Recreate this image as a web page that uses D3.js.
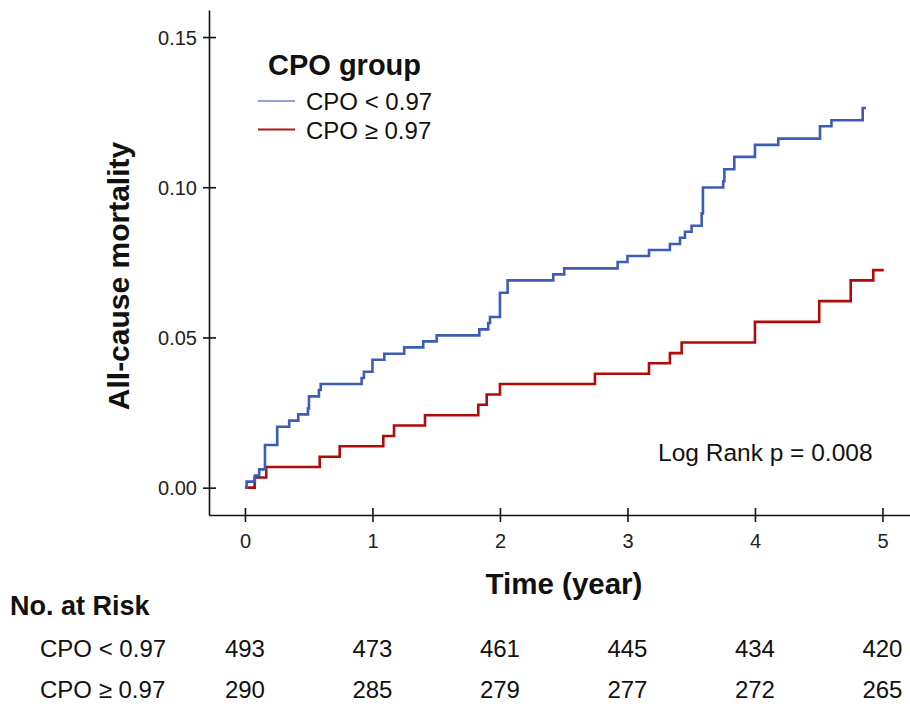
<!DOCTYPE html>
<html>
<head>
<meta charset="utf-8">
<script src="https://cdn.jsdelivr.net/npm/d3@7"></script>
<style>
  html, body { margin: 0; padding: 0; background: #fff; }
  svg { display: block; font-family: "Liberation Sans", Arial, sans-serif; }
</style>
</head>
<body>
<svg id="chart" width="910" height="708"></svg>
<script>
// ---- Data ----
const groups = ["CPO < 0.97", "CPO \u2265 0.97"];

// Blue group (CPO < 0.97): step times (years) and cumulative mortality after each step
const lowTimes  = [0, 0.013, 0.078, 0.112, 0.157, 0.253, 0.347, 0.418, 0.494, 0.502, 0.580, 0.594,
                   0.915, 0.933, 1.000, 1.093, 1.249, 1.398, 1.504, 1.838, 1.908, 1.922, 2.000,
                   2.060, 2.418, 2.504, 2.923, 3.000, 3.169, 3.333, 3.412, 3.451, 3.503, 3.582,
                   3.592, 3.751, 3.760, 3.838, 4.000, 4.183, 4.510, 4.600, 4.845, 4.871];
const lowValues = [0, 0.0020, 0.0040, 0.0061, 0.0142, 0.0203, 0.0223, 0.0244, 0.0264, 0.0304, 0.0325, 0.0345,
                   0.0365, 0.0386, 0.0426, 0.0446, 0.0467, 0.0487, 0.0507, 0.0527, 0.0548, 0.0568, 0.0649,
                   0.0690, 0.0710, 0.0730, 0.0751, 0.0771, 0.0791, 0.0811, 0.0832, 0.0852, 0.0872, 0.0913,
                   0.0999, 0.1020, 0.1060, 0.1101, 0.1141, 0.1162, 0.1203, 0.1223, 0.1264, 0.1264];

// Red group (CPO >= 0.97)
const highTimes  = [0, 0.076, 0.167, 0.586, 0.743, 1.085, 1.169, 1.412, 1.830, 1.896, 2.000,
                    2.745, 3.169, 3.333, 3.425, 4.000, 4.504, 4.751, 4.928, 5.010];
const highValues = [0, 0.0034, 0.0069, 0.0103, 0.0138, 0.0172, 0.0207, 0.0241, 0.0276, 0.0310, 0.0345,
                    0.0379, 0.0414, 0.0448, 0.0483, 0.0552, 0.0621, 0.0690, 0.0724, 0.0724];

const xTicks = [0, 1, 2, 3, 4, 5];
const yTicks = [0, 0.05, 0.10, 0.15];
const riskLow  = [493, 473, 461, 445, 434, 420];
const riskHigh = [290, 285, 279, 277, 272, 265];
const pText = "Log Rank p = 0.008";

// ---- Layout ----
const colors = ["#3d5cb6", "#b00a0a"];
const legendColors = ["#8fa3d6", "#b01a1a"];
const svg = d3.select("#chart");

const x = d3.scaleLinear().domain([-0.282, 5.216]).range([209, 910]);
const y = d3.scaleLinear().domain([-0.0091, 0.159]).range([515, 10]);

// Axes
const yAxis = d3.axisLeft(y).tickValues(yTicks).tickFormat(d3.format(".2f")).tickSize(6).tickSizeOuter(0);
const gy = svg.append("g").attr("transform", "translate(209,0)").call(yAxis);
gy.select(".domain").attr("stroke", "#111").attr("stroke-width", 1.6);
gy.selectAll(".tick line").attr("x1", -6).attr("x2", 7).attr("stroke", "#111").attr("stroke-width", 1.6);
gy.selectAll(".tick text").attr("x", -12).attr("dy", "0.35em")
  .style("font-size", "20px").style("font-family", "Liberation Sans, Arial, sans-serif").attr("fill", "#222");

const xAxis = d3.axisBottom(x).tickValues(xTicks).tickFormat(d3.format("d")).tickSize(7).tickSizeOuter(0);
const gx = svg.append("g").attr("transform", "translate(0,515)").call(xAxis);
gx.select(".domain").attr("stroke", "#111").attr("stroke-width", 1.6);
gx.selectAll(".tick line").attr("y1", -7).attr("y2", 7).attr("stroke", "#111").attr("stroke-width", 1.6);
gx.selectAll(".tick text").attr("y", 19).attr("dy", "0.71em")
  .style("font-size", "20px").style("font-family", "Liberation Sans, Arial, sans-serif").attr("fill", "#222");

// Curves
const line = d3.line().x(d => x(d[0])).y(d => y(d[1])).curve(d3.curveStepAfter);
const lowData = lowTimes.map((t, i) => [t, lowValues[i]]);
const highData = highTimes.map((t, i) => [t, highValues[i]]);

svg.append("path").datum(highData).attr("d", line)
  .attr("fill", "none").attr("stroke", colors[1]).attr("stroke-width", 2.6);
svg.append("path").datum(lowData).attr("d", line)
  .attr("fill", "none").attr("stroke", colors[0]).attr("stroke-width", 2.6);

// Legend
svg.append("text").attr("x", 268).attr("y", 75).text("CPO group")
  .style("font-size", "29px").style("font-weight", "bold").attr("fill", "#111");
const leg = svg.append("g");
groups.forEach((g, i) => {
  const yy = 101 + i * 28.5;
  leg.append("line").attr("x1", 258).attr("x2", 295).attr("y1", yy).attr("y2", yy)
     .attr("stroke", legendColors[i]).attr("stroke-width", 2);
  leg.append("text").attr("x", 306).attr("y", yy + 9).text(g)
     .style("font-size", "24px").attr("fill", "#111");
});

// p-value
svg.append("text").attr("x", 658).attr("y", 461).text(pText)
  .style("font-size", "24.5px").attr("fill", "#111");

// Axis titles
svg.append("text").attr("transform", "translate(129,276) rotate(-90)")
  .attr("text-anchor", "middle").text("All-cause mortality")
  .style("font-size", "30px").style("font-weight", "bold").attr("fill", "#111");
svg.append("text").attr("x", 564).attr("y", 594).attr("text-anchor", "middle").text("Time (year)")
  .style("font-size", "29.5px").style("font-weight", "bold").attr("fill", "#111");

// Risk table
svg.append("text").attr("x", 10).attr("y", 615).text("No. at Risk")
  .style("font-size", "27px").style("font-weight", "bold").attr("fill", "#111");
[riskLow, riskHigh].forEach((row, r) => {
  const yy = 657 + r * 41;
  svg.append("text").attr("x", 40).attr("y", yy).text(groups[r])
     .style("font-size", "24px").attr("fill", "#111");
  svg.append("g").selectAll("text").data(row).join("text")
     .attr("x", (d, i) => x(xTicks[i])).attr("y", yy).attr("text-anchor", "middle")
     .text(d => d).style("font-size", "24px").attr("fill", "#111");
});
</script>
</body>
</html>
